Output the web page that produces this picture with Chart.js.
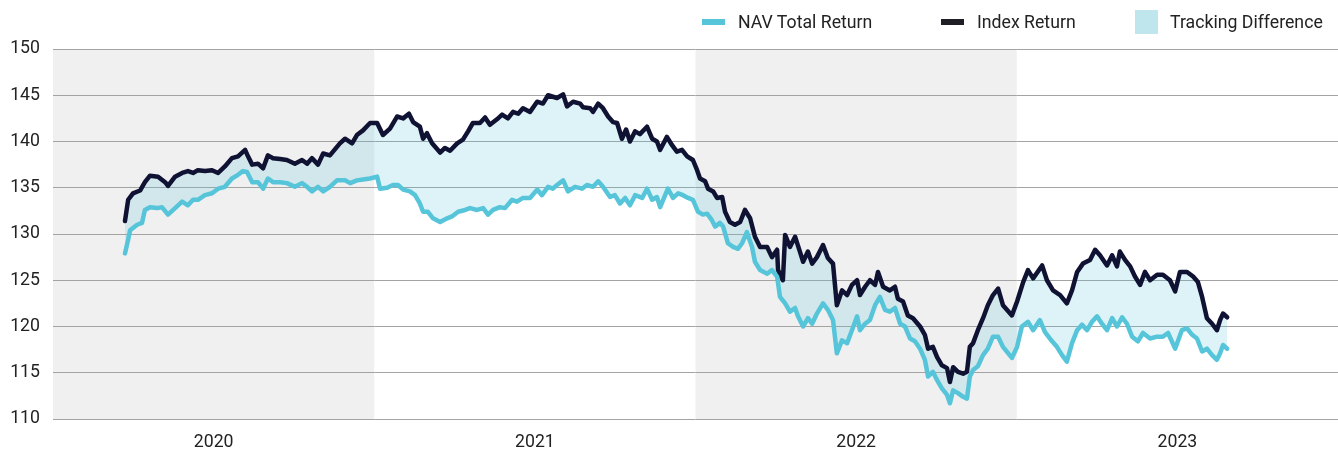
<!DOCTYPE html>
<html>
<head>
<meta charset="utf-8">
<script src="https://cdn.jsdelivr.net/npm/chart.js@4.4.0/dist/chart.umd.min.js"></script>
<style>
    html, body { margin: 0; padding: 0; background: #fff; }
    #wrap { position: relative; width: 1338px; height: 450px; }
    #chart { position: absolute; left: 0; top: 0; }
    .legend { position: absolute; top: 0; left: 0; width: 100%; height: 44px;
              font-family: Roboto, sans-serif; font-size: 17.7px; color: #222; }
    .item { position: absolute; top: 10px; height: 24px; display: flex; align-items: center; white-space: nowrap; }
    .bar { width: 23px; height: 6px; margin-right: 13px; }
    .box { width: 23px; height: 24px; margin-right: 12px; }
</style>
</head>
<body>
<div id="wrap">
    <canvas id="chart" width="1338" height="450"></canvas>
    <div class="legend">
        <div class="item" style="left:702px"><span class="bar" style="background:#56c5d9"></span>NAV Total Return</div>
        <div class="item" style="left:941px"><span class="bar" style="background:#1e1e24"></span>Index Return</div>
        <div class="item" style="left:1135px"><span class="box" style="background:#bfe6ec"></span>Tracking Difference</div>
    </div>
</div>
<script>
// ===== Data =====

const yearLabels = ['2020', '2021', '2022', '2023'];
const bandShaded = [true, false, true, false];
const firstYear = 2020;

const yMin = 110;
const yMax = 150;
const yStep = 5;

// dates as decimal years
const navDates = [
    2020.224, 2020.234, 2020.240, 2020.262, 2020.277, 2020.286, 2020.302, 2020.324, 2020.339, 2020.358,
    2020.380, 2020.402, 2020.420, 2020.436, 2020.451, 2020.473, 2020.495, 2020.514, 2020.535, 2020.557,
    2020.576, 2020.591, 2020.604, 2020.620, 2020.638, 2020.654, 2020.669, 2020.685, 2020.707, 2020.728,
    2020.753, 2020.775, 2020.791, 2020.806, 2020.825, 2020.841, 2020.862, 2020.884, 2020.909, 2020.925,
    2020.946, 2020.965, 2020.987, 2021.009, 2021.018, 2021.040, 2021.058, 2021.074, 2021.090, 2021.111,
    2021.127, 2021.142, 2021.152, 2021.167, 2021.183, 2021.205, 2021.227, 2021.242, 2021.261, 2021.283,
    2021.298, 2021.320, 2021.339, 2021.354, 2021.370, 2021.391, 2021.407, 2021.429, 2021.444, 2021.463,
    2021.485, 2021.507, 2021.522, 2021.541, 2021.556, 2021.569, 2021.588, 2021.603, 2021.625, 2021.647,
    2021.662, 2021.681, 2021.697, 2021.712, 2021.734, 2021.749, 2021.765, 2021.781, 2021.796, 2021.812,
    2021.834, 2021.849, 2021.865, 2021.880, 2021.890, 2021.914, 2021.930, 2021.946, 2021.961, 2021.977,
    2021.992, 2022.008, 2022.023, 2022.036, 2022.051, 2022.061, 2022.076, 2022.086, 2022.101, 2022.117,
    2022.132, 2022.145, 2022.160, 2022.176, 2022.185, 2022.201, 2022.223, 2022.238, 2022.254, 2022.263,
    2022.279, 2022.294, 2022.310, 2022.319, 2022.335, 2022.350, 2022.363, 2022.378, 2022.397, 2022.412,
    2022.428, 2022.440, 2022.456, 2022.472, 2022.487, 2022.503, 2022.512, 2022.528, 2022.543, 2022.559,
    2022.574, 2022.590, 2022.605, 2022.621, 2022.637, 2022.652, 2022.668, 2022.683, 2022.699, 2022.714,
    2022.724, 2022.739, 2022.752, 2022.767, 2022.783, 2022.792, 2022.802, 2022.817, 2022.833, 2022.845,
    2022.854, 2022.864, 2022.879, 2022.895, 2022.910, 2022.926, 2022.942, 2022.957, 2022.985, 2023.001,
    2023.016, 2023.035, 2023.051, 2023.072, 2023.088, 2023.110, 2023.125, 2023.141, 2023.156, 2023.172,
    2023.188, 2023.203, 2023.219, 2023.234, 2023.250, 2023.265, 2023.281, 2023.297, 2023.312, 2023.328,
    2023.343, 2023.359, 2023.377, 2023.393, 2023.415, 2023.437, 2023.455, 2023.471, 2023.493, 2023.514,
    2023.530, 2023.546, 2023.561, 2023.577, 2023.592, 2023.608, 2023.623, 2023.633, 2023.642, 2023.655
];
const navValues = [
    127.9, 129.4, 130.4, 131.0, 131.2, 132.6, 132.9, 132.8, 132.9, 132.1,
    132.8, 133.5, 133.1, 133.7, 133.7, 134.2, 134.4, 134.9, 135.1, 136.0,
    136.4, 136.8, 136.7, 135.6, 135.6, 134.9, 136.0, 135.6, 135.6, 135.5,
    135.1, 135.5, 135.1, 134.6, 135.1, 134.6, 135.1, 135.8, 135.8, 135.5,
    135.8, 135.9, 136.0, 136.2, 134.9, 135.0, 135.3, 135.3, 134.8, 134.6,
    134.2, 133.3, 132.4, 132.4, 131.7, 131.3, 131.7, 131.9, 132.4, 132.6,
    132.8, 132.6, 132.8, 132.1, 132.6, 132.9, 132.8, 133.7, 133.5, 133.9,
    133.9, 134.8, 134.2, 135.1, 134.9, 135.3, 135.8, 134.6, 135.1, 134.9,
    135.3, 135.1, 135.7, 135.1, 134.0, 134.2, 133.3, 133.9, 133.1, 134.2,
    133.9, 134.9, 133.7, 134.0, 132.9, 134.9, 133.9, 134.4, 134.2, 133.9,
    133.7, 132.4, 132.1, 132.2, 131.5, 130.8, 131.2, 130.8, 129.0, 128.6,
    128.4, 129.0, 130.2, 128.6, 127.0, 126.1, 125.7, 126.1, 125.4, 123.2,
    122.5, 121.6, 122.0, 121.1, 120.0, 120.9, 120.3, 121.4, 122.5, 121.8,
    120.7, 117.1, 118.5, 118.2, 119.6, 121.1, 119.6, 120.3, 120.7, 122.3,
    123.2, 121.8, 121.6, 122.0, 120.3, 120.0, 118.7, 118.4, 117.6, 116.4,
    114.6, 115.1, 114.2, 113.3, 112.6, 111.7, 113.1, 112.8, 112.4, 112.2,
    114.6, 115.3, 115.7, 116.9, 117.6, 118.9, 118.9, 117.8, 116.6, 117.8,
    120.0, 120.5, 119.6, 120.7, 119.4, 118.4, 117.8, 116.9, 116.2, 118.2,
    119.6, 120.2, 119.6, 120.5, 121.1, 120.3, 119.6, 120.9, 120.0, 121.0,
    120.3, 118.9, 118.4, 119.3, 118.7, 118.9, 118.9, 119.3, 117.6, 119.6,
    119.8, 119.1, 118.7, 117.3, 117.6, 116.9, 116.4, 117.1, 118.0, 117.6
];

const indexDates = [
    2020.224, 2020.234, 2020.249, 2020.271, 2020.286, 2020.302, 2020.327, 2020.349, 2020.358, 2020.380,
    2020.402, 2020.420, 2020.436, 2020.451, 2020.473, 2020.495, 2020.514, 2020.535, 2020.557, 2020.576,
    2020.598, 2020.607, 2020.620, 2020.638, 2020.654, 2020.669, 2020.685, 2020.707, 2020.728, 2020.753,
    2020.775, 2020.791, 2020.806, 2020.825, 2020.841, 2020.862, 2020.893, 2020.909, 2020.931, 2020.946,
    2020.965, 2020.987, 2021.009, 2021.027, 2021.049, 2021.071, 2021.090, 2021.108, 2021.121, 2021.142,
    2021.152, 2021.164, 2021.180, 2021.205, 2021.220, 2021.236, 2021.258, 2021.276, 2021.292, 2021.307,
    2021.329, 2021.345, 2021.360, 2021.382, 2021.398, 2021.416, 2021.432, 2021.448, 2021.463, 2021.485,
    2021.507, 2021.525, 2021.541, 2021.569, 2021.588, 2021.600, 2021.619, 2021.641, 2021.650, 2021.672,
    2021.681, 2021.697, 2021.712, 2021.728, 2021.743, 2021.756, 2021.771, 2021.784, 2021.796, 2021.812,
    2021.827, 2021.849, 2021.865, 2021.880, 2021.890, 2021.911, 2021.927, 2021.942, 2021.958, 2021.974,
    2021.992, 2022.005, 2022.014, 2022.030, 2022.039, 2022.055, 2022.067, 2022.083, 2022.092, 2022.107,
    2022.123, 2022.139, 2022.154, 2022.170, 2022.185, 2022.201, 2022.223, 2022.238, 2022.254, 2022.257,
    2022.272, 2022.279, 2022.294, 2022.310, 2022.325, 2022.335, 2022.350, 2022.363, 2022.378, 2022.397,
    2022.412, 2022.428, 2022.440, 2022.456, 2022.472, 2022.487, 2022.503, 2022.512, 2022.528, 2022.543,
    2022.559, 2022.568, 2022.584, 2022.605, 2022.621, 2022.630, 2022.646, 2022.661, 2022.677, 2022.699,
    2022.714, 2022.724, 2022.739, 2022.752, 2022.767, 2022.783, 2022.792, 2022.802, 2022.817, 2022.833,
    2022.845, 2022.854, 2022.864, 2022.879, 2022.895, 2022.910, 2022.926, 2022.942, 2022.957, 2022.985,
    2023.001, 2023.020, 2023.035, 2023.051, 2023.079, 2023.094, 2023.113, 2023.135, 2023.156, 2023.172,
    2023.188, 2023.206, 2023.228, 2023.244, 2023.259, 2023.281, 2023.297, 2023.312, 2023.321, 2023.337,
    2023.353, 2023.368, 2023.384, 2023.399, 2023.415, 2023.437, 2023.455, 2023.477, 2023.493, 2023.508,
    2023.530, 2023.549, 2023.564, 2023.577, 2023.592, 2023.608, 2023.623, 2023.633, 2023.642, 2023.655
];
const indexValues = [
    131.4, 133.7, 134.4, 134.7, 135.6, 136.3, 136.2, 135.6, 135.2, 136.2,
    136.6, 136.8, 136.6, 136.9, 136.8, 136.9, 136.6, 137.3, 138.2, 138.4,
    139.1, 138.4, 137.5, 137.6, 137.1, 138.5, 138.2, 138.1, 138.0, 137.6,
    138.0, 137.6, 138.2, 137.5, 138.7, 138.5, 139.8, 140.3, 139.8, 140.7,
    141.2, 142.0, 142.0, 140.7, 141.4, 142.7, 142.5, 143.0, 142.1, 141.6,
    140.3, 140.9, 139.8, 138.8, 139.3, 139.0, 139.8, 140.2, 141.1, 142.0,
    142.0, 142.6, 141.8, 142.4, 142.9, 142.5, 143.2, 143.0, 143.6, 143.2,
    144.3, 144.1, 145.0, 144.7, 145.1, 143.8, 144.3, 144.1, 143.7, 143.6,
    143.2, 144.1, 143.6, 142.7, 142.1, 142.0, 140.3, 141.3, 140.0, 141.1,
    140.8, 141.6, 140.3, 140.0, 139.1, 140.5, 139.6, 138.9, 139.1, 138.4,
    138.0, 136.9, 136.0, 135.7, 134.9, 134.6, 133.9, 134.0, 132.4, 131.3,
    131.0, 131.3, 132.6, 131.7, 129.7, 128.6, 128.6, 127.5, 128.3, 126.1,
    125.0, 129.9, 128.6, 129.7, 128.1, 127.0, 128.1, 126.8, 127.5, 128.8,
    127.4, 126.8, 122.3, 123.9, 123.4, 124.5, 125.0, 123.4, 124.3, 125.0,
    124.5, 125.9, 124.3, 123.9, 124.3, 123.0, 122.7, 121.2, 120.9, 120.0,
    119.1, 117.6, 117.8, 116.7, 115.8, 115.5, 114.0, 115.6, 115.1, 114.9,
    115.1, 117.8, 118.2, 119.6, 120.9, 122.3, 123.4, 124.1, 122.3, 121.2,
    122.7, 124.8, 126.1, 125.2, 126.6, 125.0, 123.9, 123.4, 122.5, 123.9,
    125.9, 126.8, 127.2, 128.3, 127.7, 126.6, 127.7, 126.5, 128.1, 127.2,
    126.5, 125.4, 124.5, 125.9, 125.0, 125.6, 125.6, 125.0, 123.8, 125.9,
    125.9, 125.4, 124.8, 123.2, 120.9, 120.3, 119.6, 120.7, 121.4, 121.0
];

// ===== Chart =====

const FONT = { family: 'Roboto, sans-serif', size: 17.7 };

const toPoints = (dates, values) => dates.map((d, i) => ({ x: d, y: values[i] }));

// grey bands behind alternate years
const yearBands = {
    id: 'yearBands',
    beforeDraw(chart) {
        const { ctx, chartArea, scales: { x } } = chart;
        ctx.save();
        ctx.fillStyle = '#f0f0f0';
        yearLabels.forEach((label, i) => {
            if (!bandShaded[i]) return;
            const left = x.getPixelForValue(firstYear + i);
            const right = x.getPixelForValue(firstYear + i + 1);
            ctx.fillRect(left, chartArea.top, right - left, chartArea.bottom - chartArea.top);
        });
        ctx.restore();
    }
};

new Chart(document.getElementById('chart'), {
    type: 'line',
    data: {
        datasets: [
            {
                label: 'NAV Total Return',
                data: toPoints(navDates, navValues),
                borderColor: '#56c5d9',
                borderWidth: 4.5,
                pointRadius: 0,
                tension: 0,
                borderJoinStyle: 'round',
                borderCapStyle: 'round',
                fill: false
            },
            {
                label: 'Index Return',
                data: toPoints(indexDates, indexValues),
                borderColor: '#0f1232',
                borderWidth: 4.5,
                pointRadius: 0,
                tension: 0,
                borderJoinStyle: 'round',
                borderCapStyle: 'round',
                fill: '-1',
                backgroundColor: 'rgba(86, 197, 217, 0.2)'
            }
        ]
    },
    options: {
        responsive: false,
        animation: false,
        layout: { padding: { top: 49, left: 0, right: 0, bottom: 0 } },
        plugins: {
            legend: { display: false },
            tooltip: { enabled: false },
            filler: { drawTime: 'beforeDatasetsDraw' }
        },
        scales: {
            x: {
                type: 'linear',
                min: firstYear,
                max: firstYear + yearLabels.length,
                afterBuildTicks: (axis) => {
                    axis.ticks = yearLabels.map((l, i) => ({ value: firstYear + i + 0.5 }));
                },
                afterFit: (axis) => { axis.height = 31; },
                ticks: {
                    color: '#222',
                    font: FONT,
                    padding: 13,
                    maxRotation: 0,
                    callback: (v) => yearLabels[Math.floor(v - firstYear)]
                },
                grid: { display: false, drawTicks: false },
                border: { display: false }
            },
            y: {
                min: yMin,
                max: yMax,
                afterFit: (axis) => { axis.width = 53; },
                ticks: { stepSize: yStep, color: '#222', font: FONT, padding: 13 },
                grid: { color: '#a3a3a3', lineWidth: 1, drawTicks: false },
                border: { display: false }
            }
        }
    },
    plugins: [yearBands]
});
</script>
</body>
</html>
